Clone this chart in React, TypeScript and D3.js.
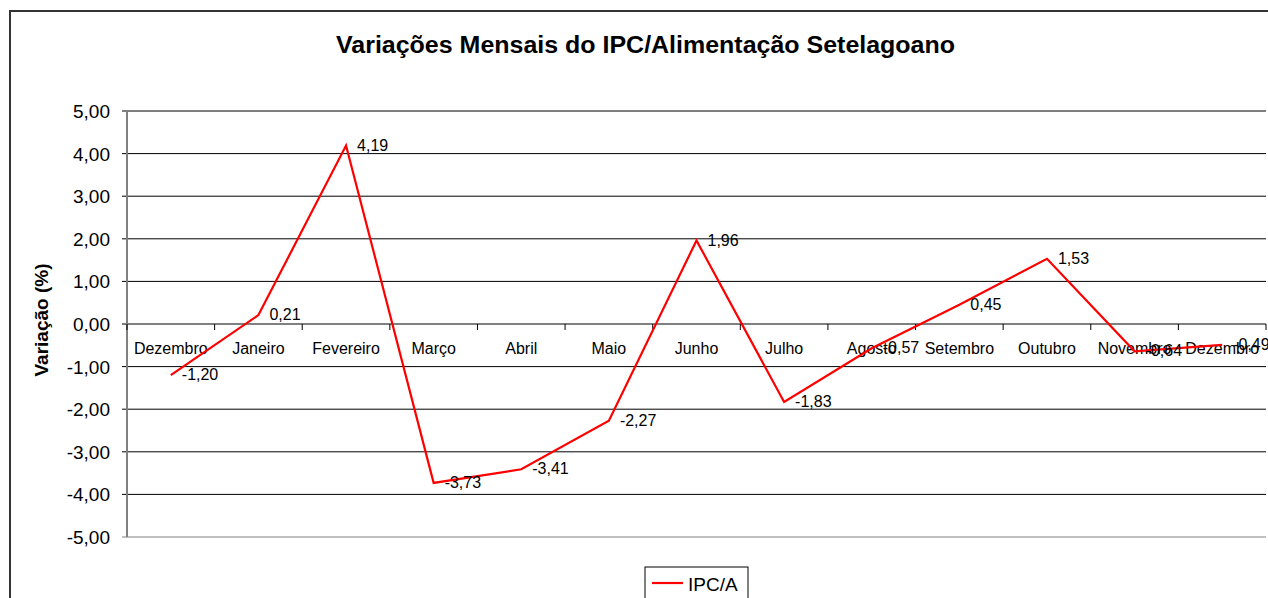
import React from "react";
import * as d3 from "d3";

const categories = ["Dezembro", "Janeiro", "Fevereiro", "Março", "Abril", "Maio", "Junho", "Julho", "Agosto", "Setembro", "Outubro", "Novembro", "Dezembro"];
const values = [-1.20, 0.21, 4.19, -3.73, -3.41, -2.27, 1.96, -1.83, -0.57, 0.45, 1.53, -0.64, -0.49];
const yTicks = [5, 4, 3, 2, 1, 0, -1, -2, -3, -4, -5];
const title = "Variações Mensais do IPC/Alimentação Setelagoano";
const yLabel = "Variação (%)";
const seriesName = "IPC/A";

const W = 1268;
const H = 598;
const left = 127;
const right = 1266;
const top = 111;
const bottom = 537;
const FONT = "'Liberation Sans', Arial, sans-serif";

const fmt = (v: number) => v.toFixed(2).replace(".", ",");

export default function App() {
  const idx = categories.map((_, i) => String(i));
  const x = d3.scaleBand<string>().domain(idx).range([left, right]).padding(0);
  const y = d3.scaleLinear().domain([-5, 5]).range([bottom, top]);
  const cx = (i: number) => (x(String(i)) as number) + x.bandwidth() / 2;
  const line = d3
    .line<number>()
    .x((_, i) => cx(i))
    .y((d) => y(d));
  const y0 = y(0);
  const edges = d3.range(categories.length + 1).map((i) => left + i * x.bandwidth());

  return (
    <svg width={W} height={H} style={{ position: "absolute", left: 0, top: 0, background: "#fff" }} fontFamily={FONT}>
      <rect x={10} y={11} width={1300} height={700} fill="#fff" stroke="#333" strokeWidth={2} />
      <text x={336} y={53} fontSize={23} fontWeight="bold" fill="#000" textLength={619} lengthAdjust="spacingAndGlyphs">
        {title}
      </text>
      {yTicks.map((t) => (
        <g key={t}>
          <line x1={left - 5} x2={right} y1={y(t)} y2={y(t)} stroke={t === -5 ? "#808080" : "#000"} strokeWidth={1} />
          <text x={110} y={y(t) + 7} textAnchor="end" fontSize={19} fill="#000">
            {fmt(t)}
          </text>
        </g>
      ))}
      <line x1={left} x2={left} y1={top} y2={bottom} stroke="#808080" strokeWidth={2} />
      {edges.map((e, i) => (
        <line key={i} x1={e} x2={e} y1={y0} y2={y0 + 6} stroke="#000" strokeWidth={1} />
      ))}
      {categories.map((c, i) => (
        <text key={i} x={cx(i)} y={354} textAnchor="middle" fontSize={16} fill="#000">
          {c}
        </text>
      ))}
      <text transform={`translate(48,${320}) rotate(-90)`} textAnchor="middle" fontSize={19} fontWeight="bold" fill="#000">
        {yLabel}
      </text>
      <path d={line(values) || ""} fill="none" stroke="#ff0000" strokeWidth={2.2} strokeLinejoin="miter" />
      {values.map((v, i) => (
        <text key={i} x={cx(i) + 11} y={y(v) + 5} fontSize={16} fill="#000">
          {fmt(v)}
        </text>
      ))}
      <rect x={645} y={567} width={103} height={50} fill="#fff" stroke="#000" strokeWidth={1} />
      <line x1={652} x2={683} y1={583} y2={583} stroke="#ff0000" strokeWidth={2.2} />
      <text x={688} y={591} fontSize={19} fill="#000">
        {seriesName}
      </text>
    </svg>
  );
}
